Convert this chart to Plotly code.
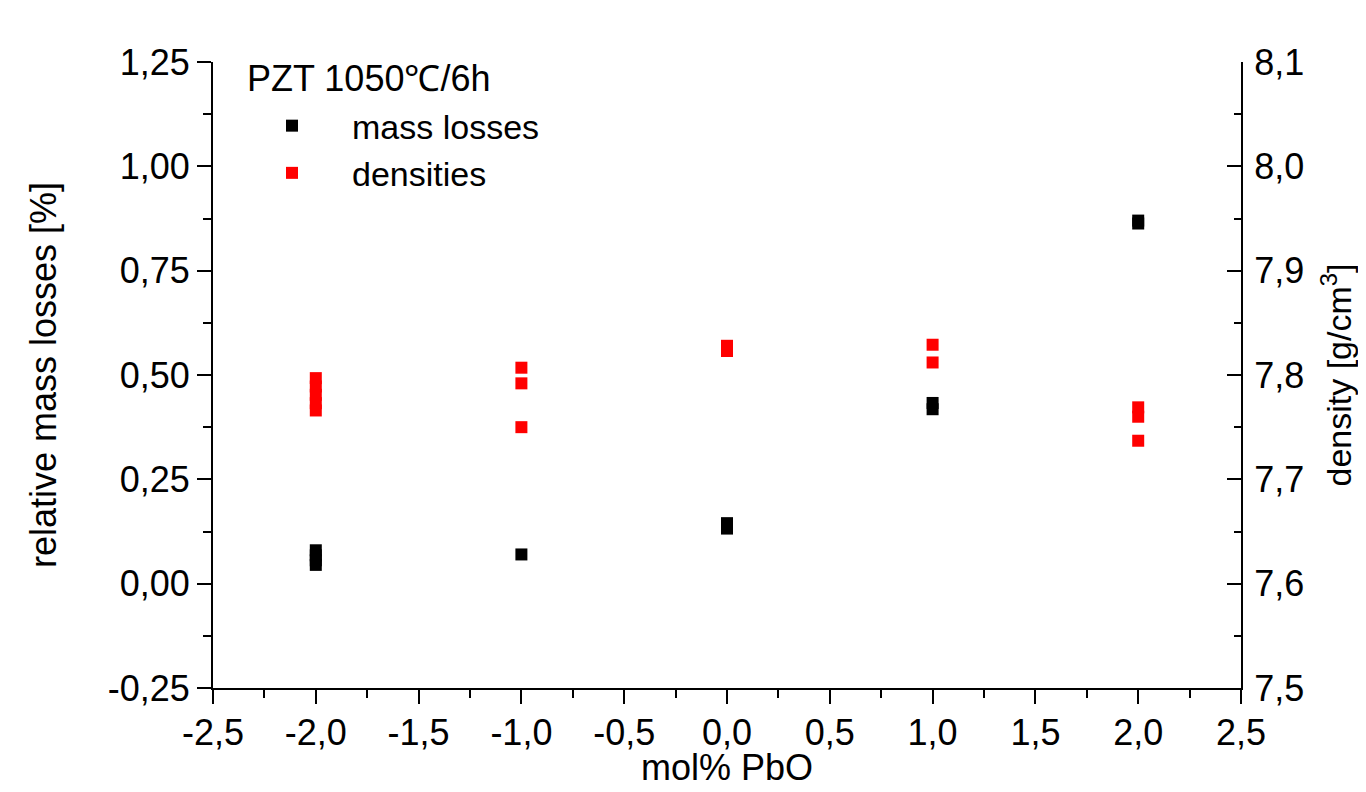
import plotly.graph_objects as go

# ---- data ----
mass_x = [-2, -2, -2, -2, -1, 0, 0, 1, 1, 2, 2]
mass_y = [0.080, 0.068, 0.056, 0.045, 0.070, 0.145, 0.132, 0.433, 0.418, 0.870, 0.863]

dens_x = [-2, -2, -2, -2, -2, -1, -1, -1, 0, 0, 1, 1, 2, 2, 2]
dens_y = [7.797, 7.789, 7.781, 7.773, 7.766, 7.807, 7.792, 7.750, 7.828, 7.823,
          7.829, 7.812, 7.769, 7.760, 7.737]

x_ticks = [-2.5, -2.0, -1.5, -1.0, -0.5, 0.0, 0.5, 1.0, 1.5, 2.0, 2.5]
x_ticklabels = ["-2,5", "-2,0", "-1,5", "-1,0", "-0,5", "0,0", "0,5", "1,0", "1,5", "2,0", "2,5"]
y_ticks = [-0.25, 0.0, 0.25, 0.5, 0.75, 1.0, 1.25]
y_ticklabels = ["-0,25", "0,00", "0,25", "0,50", "0,75", "1,00", "1,25"]
y2_ticks = [7.5, 7.6, 7.7, 7.8, 7.9, 8.0, 8.1]
y2_ticklabels = ["7,5", "7,6", "7,7", "7,8", "7,9", "8,0", "8,1"]

legend_title = "PZT 1050℃/6h"
x_title = "mol% PbO"

FONT = "Liberation Sans, Arial, sans-serif"

fig = go.Figure()
fig.add_trace(go.Scatter(
    x=mass_x, y=mass_y, mode="markers", name="mass losses",
    marker=dict(symbol="square", size=12, color="#000000", line=dict(width=0)),
    yaxis="y"))
fig.add_trace(go.Scatter(
    x=dens_x, y=dens_y, mode="markers", name="densities",
    marker=dict(symbol="square", size=12, color="#ff0000", line=dict(width=0)),
    yaxis="y2"))

axis_common = dict(
    showline=True, linewidth=2, linecolor="black",
    showgrid=False, zeroline=False, automargin=False,
    tickwidth=2, tickcolor="black", ticklen=14,
    tickfont=dict(family=FONT, size=36, color="black"),
)

fig.add_annotation(
    text=legend_title, xref="paper", yref="paper",
    x=0.031, y=0.974, xanchor="left", yanchor="middle",
    showarrow=False, font=dict(family=FONT, size=36, color="black"))

# x-axis title (placed as annotation so it can sit close to the page bottom)
fig.add_annotation(
    text=x_title, xref="paper", yref="paper",
    x=0.5, y=-0.127, xanchor="center", yanchor="middle",
    showarrow=False, font=dict(family=FONT, size=36, color="black"))

fig.update_layout(
    width=1350, height=776,
    paper_bgcolor="white", plot_bgcolor="white",
    margin=dict(l=205, r=117, t=54, b=96, autoexpand=False),
    font=dict(family=FONT, size=36, color="black"),
    showlegend=True,
    legend=dict(
        x=0.0185, y=0.944, xanchor="left", yanchor="top",
        bgcolor="rgba(0,0,0,0)", borderwidth=0,
        font=dict(family=FONT, size=34, color="black"),
        itemwidth=110,
    ),
    xaxis=dict(
        **axis_common,
        range=[-2.5, 2.5], ticks="outside",
        tickvals=x_ticks, ticktext=x_ticklabels,
        ticklabelstandoff=-2,
        minor=dict(dtick=0.25, ticklen=8, tickwidth=2, tickcolor="black", ticks="outside"),
    ),
    yaxis=dict(
        **axis_common,
        range=[-0.25, 1.25], ticks="outside",
        tickvals=y_ticks, ticktext=y_ticklabels,
        minor=dict(dtick=0.125, ticklen=8, tickwidth=2, tickcolor="black", ticks="outside"),
        title=dict(text="relative mass losses [%]", font=dict(family=FONT, size=36), standoff=40),
    ),
    yaxis2=dict(
        **axis_common,
        overlaying="y", side="right", anchor="x",
        range=[7.5, 8.1], ticks="inside",
        tickvals=y2_ticks, ticktext=y2_ticklabels,
        ticklabelstandoff=4,
        minor=dict(dtick=0.05, ticklen=7, tickwidth=2, tickcolor="black", ticks="inside"),
        title=dict(text="density [g/cm<sup>3</sup>]", font=dict(family=FONT, size=34), standoff=29),
    ),
)

fig.write_html("out.html")
